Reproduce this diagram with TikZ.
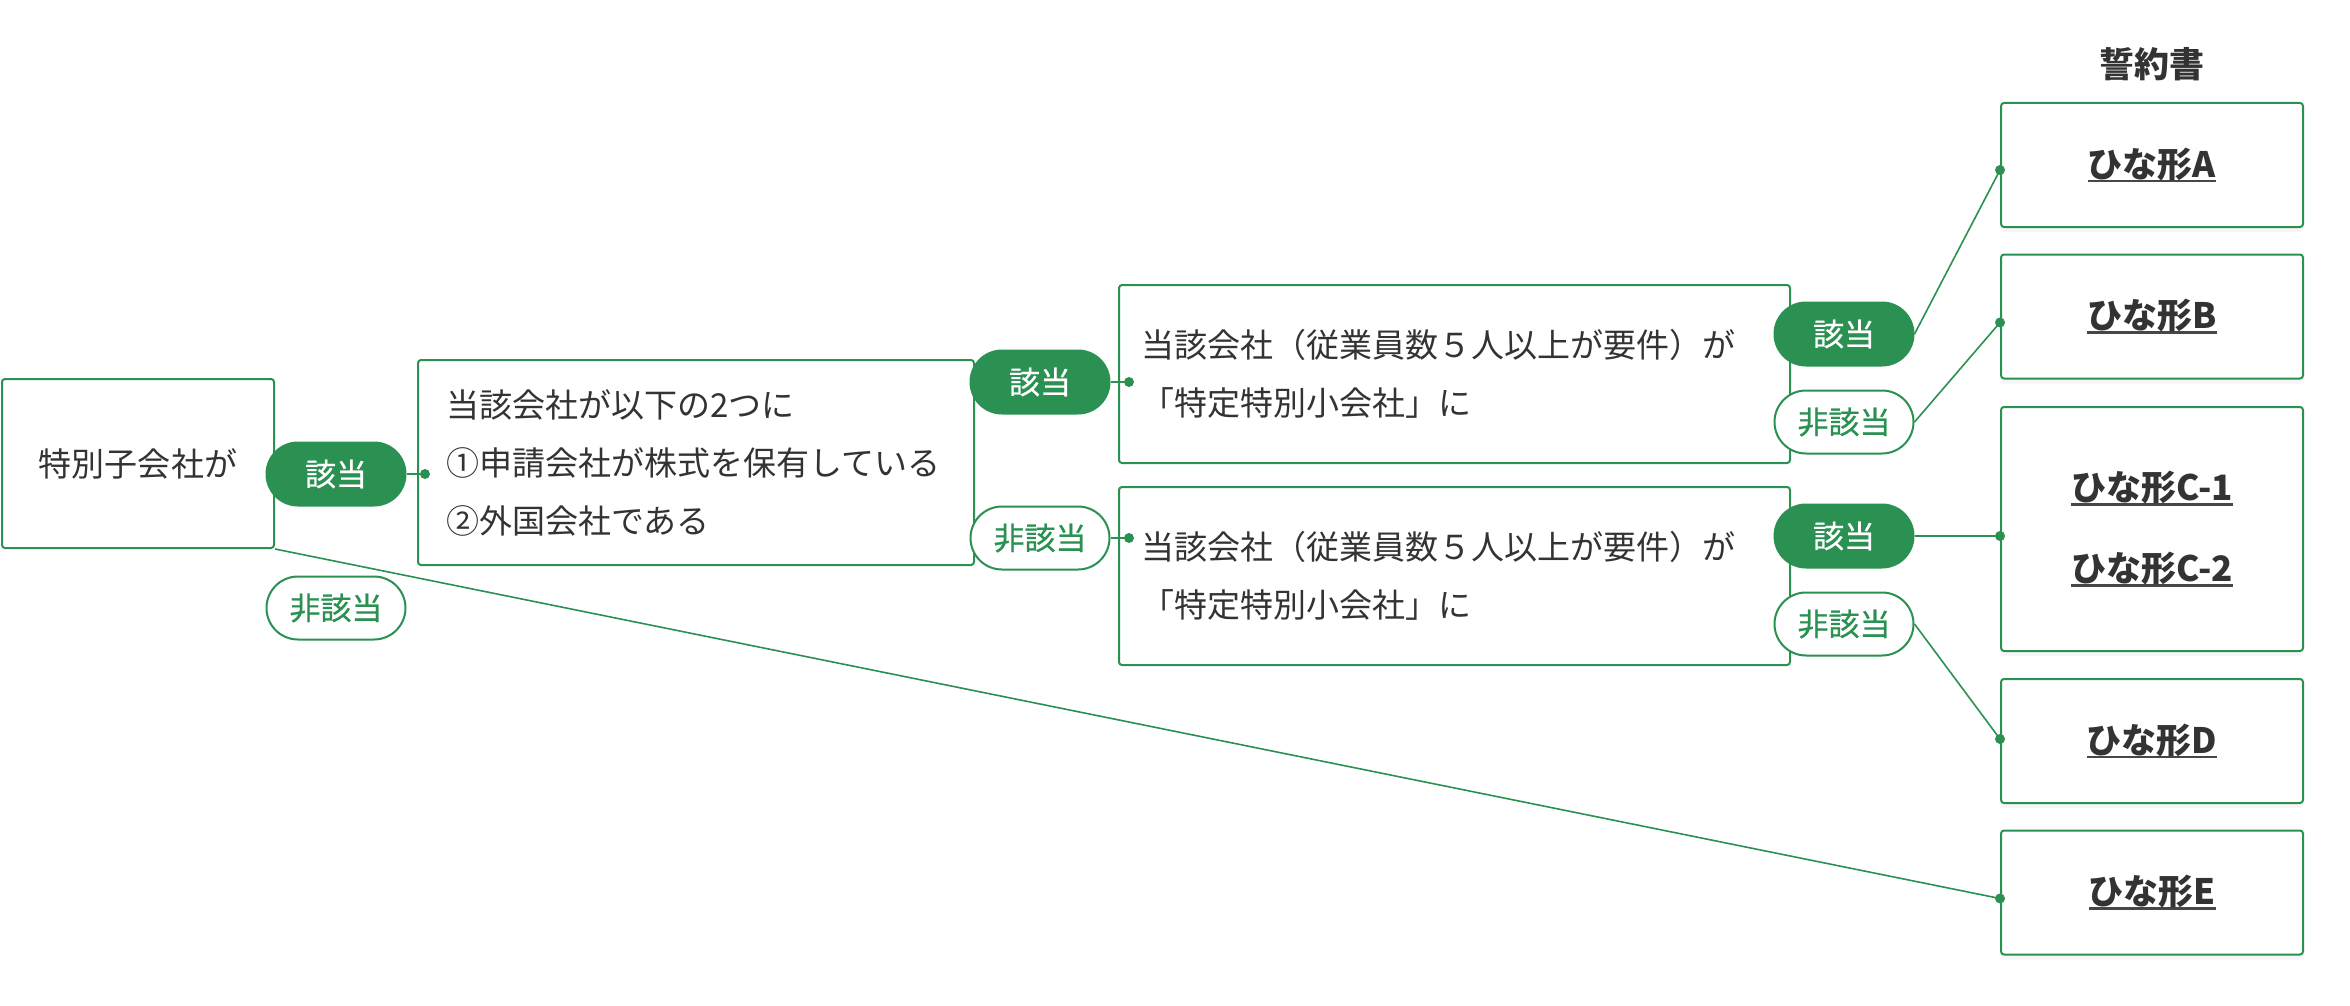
\documentclass[tikz,border=0pt]{standalone}
\usepackage{fontspec}
\setmainfont{Noto Sans CJK JP}
\newfontfamily\pillFont{Noto Sans CJK JP}[FakeBold=0.6]
\usetikzlibrary{positioning,calc,shapes.misc,shadows}
\definecolor{brandGreen}{HTML}{2A9152}
\definecolor{textGray}{HTML}{333333}
\newcommand{\formName}[1]{\setbox0\hbox{#1}\rlap{\color{textGray!90}\rule[-2.65pt]{\wd0}{1.3pt}}\box0}
\tikzset{
	condBox/.style={rectangle, draw=brandGreen, line width=1pt, rounded corners=1.5pt, fill=white, text=textGray, font=\fontsize{16.5}{29}\selectfont},
	formBox/.style={rectangle, draw=brandGreen, line width=1pt, rounded corners=1.5pt, fill=white, text=textGray, minimum width=151pt, align=center, font=\bfseries\fontsize{17.5}{40.5}\selectfont, drop shadow={shadow xshift=0pt, shadow yshift=-2.5pt, opacity=0.07}},
	yesPill/.style={rounded rectangle, draw=brandGreen, line width=1pt, fill=brandGreen, text=white, minimum width=69.5pt, minimum height=31.5pt, inner sep=0pt, font=\pillFont\fontsize{15.5}{18}\selectfont},
	noPill/.style={yesPill, fill=white, text=brandGreen},
	linkLine/.style={draw=brandGreen, line width=0.8pt},
	joinDot/.style={circle, fill=brandGreen, inner sep=0pt, minimum size=5pt}
}
\begin{document}
\begin{tikzpicture}[x=0.5pt, y=-0.5pt]
	\useasboundingbox (0,0) rectangle (2350,1006);

	% draw condition boxes
	\node[condBox, minimum width=136pt, minimum height=84.5pt](subsidiaryBox) at (138,463.5){特別子会社が};
	\node[condBox, minimum height=102.5pt, text width=250pt, inner xsep=14pt, align=left](ownershipBox) at (696,462.5){当該会社が以下の2つに\\①申請会社が株式を保有している\\②外国会社である};
	\node[condBox, minimum height=89pt, text width=313.5pt, inner xsep=11pt, align=left](smallCo1Box) at (1454.5,374){当該会社（従業員数５人以上が要件）が\\「特定特別小会社」に};
	\node[condBox, minimum height=89pt, text width=313.5pt, inner xsep=11pt, align=left](smallCo2Box) at (1454.5,576){当該会社（従業員数５人以上が要件）が\\「特定特別小会社」に};

	% draw template boxes
	\node[text=textGray, font=\bfseries\fontsize{17.5}{20}\selectfont](pledgeTitle) at (2152,64){誓約書};
	\node[formBox, minimum height=62pt](formABox) at (2152,165){\formName{ひな形A}};
	\node[formBox, minimum height=62pt](formBBox) at (2152,316.5){\formName{ひな形B}};
	\node[formBox, minimum height=122pt](formCBox) at (2152,529){\formName{ひな形C-1}\\\formName{ひな形C-2}};
	\node[formBox, minimum height=62pt](formDBox) at (2152,741){\formName{ひな形D}};
	\node[formBox, minimum height=62pt](formEBox) at (2152,892.5){\formName{ひな形E}};

	% draw answer pills
	\node[yesPill](yes1Pill) at (336,474){該当};
	\node[noPill](no1Pill) at (336,608){非該当};
	\node[yesPill](yes2Pill) at (1040,382){該当};
	\node[noPill](no2Pill) at (1040,538){非該当};
	\node[yesPill](yes3Pill) at (1844,334){該当};
	\node[noPill](no3Pill) at (1844,422){非該当};
	\node[yesPill](yes4Pill) at (1844,536){該当};
	\node[noPill](no4Pill) at (1844,624){非該当};

	% draw join dots
	\node[joinDot](ownershipDot) at ($(ownershipBox.west |- yes1Pill)+(8,0)$){};
	\node[joinDot](smallCo1Dot) at ($(smallCo1Box.west |- yes2Pill)+(11,0)$){};
	\node[joinDot](smallCo2Dot) at ($(smallCo2Box.west |- no2Pill)+(11,0)$){};
	\node[joinDot](formADot) at ($(formABox.west)+(0,5)$){};
	\node[joinDot](formBDot) at ($(formBBox.west)+(0,6)$){};
	\node[joinDot](formCDot) at (formCBox.west |- yes4Pill){};
	\node[joinDot](formDDot) at ($(formDBox.west)+(0,-2)$){};
	\node[joinDot](formEDot) at ($(formEBox.west)+(0,6)$){};

	% draw links
	\draw[linkLine] (yes1Pill.east) -- (ownershipDot.center);
	\draw[linkLine] (subsidiaryBox.south east) -- (formEDot.center);
	\draw[linkLine] (yes2Pill.east) -- (smallCo1Dot.center);
	\draw[linkLine] (no2Pill.east) -- (smallCo2Dot.center);
	\draw[linkLine] (yes3Pill.east) -- (formADot.center);
	\draw[linkLine] (no3Pill.east) -- (formBDot.center);
	\draw[linkLine] (yes4Pill.east) -- (formCDot.center);
	\draw[linkLine] (no4Pill.east) -- (formDDot.center);
\end{tikzpicture}
\end{document}
